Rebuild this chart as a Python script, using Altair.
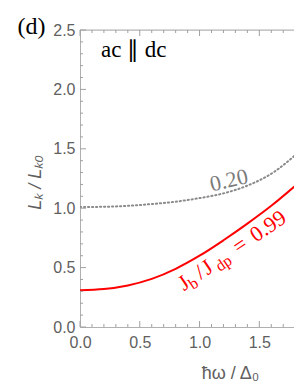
import altair as alt
import pandas as pd

# ---- data ----
omega = [0.0, 0.2, 0.4, 0.6, 0.8, 1.0, 1.2, 1.4, 1.6, 1.86]
lk_099 = [0.31, 0.32, 0.35, 0.405, 0.49, 0.60, 0.73, 0.87, 1.02, 1.24]
lk_020 = [1.01, 1.012, 1.02, 1.035, 1.055, 1.085, 1.125, 1.19, 1.29, 1.50]

x_major = [0.0, 0.5, 1.0, 1.5]
x_minor = [0.1, 0.2, 0.3, 0.4, 0.6, 0.7, 0.8, 0.9, 1.1, 1.2, 1.3, 1.4, 1.6, 1.7]
y_major = [0.0, 0.5, 1.0, 1.5, 2.0, 2.5]
y_minor = [0.1, 0.2, 0.3, 0.4, 0.6, 0.7, 0.8, 0.9, 1.1, 1.2, 1.3, 1.4,
           1.6, 1.7, 1.8, 1.9, 2.1, 2.2, 2.3, 2.4]

X_MAX = 1.79
Y_MAX = 2.5

# annotation anchors (data coordinates)
label_099_anchor = (1.37, 0.64)
label_020_anchor = (1.245, 1.235)
panel_label_anchor = (-0.405, 2.464)
config_label_anchor = (0.175, 2.27)

W, H = 214, 297
GRAY_TXT = "#606060"
AXIS_GRAY = "#b0b0b0"
TICK_GRAY = "#a0a0a0"
SERIF = "Liberation Serif"
SANS = "Liberation Sans"

xscale = alt.Scale(domain=[0, X_MAX], nice=False, zero=False)
yscale = alt.Scale(domain=[0, Y_MAX], nice=False, zero=False)

xaxis = alt.Axis(values=x_major, format=".1f", ticks=False, grid=False,
                 domainColor=AXIS_GRAY, domainWidth=1,
                 labelFont=SANS, labelFontSize=16, labelColor=GRAY_TXT, labelPadding=7,
                 labelFlush=False,
                 title="ħω / Δ₀", titleFont=SANS, titleFontSize=18, titleColor=GRAY_TXT,
                 titleFontWeight="normal", titleX=150, titleY=46,
                 titleAlign="center", titleBaseline="middle")
yaxis = alt.Axis(values=y_major, format=".1f", ticks=False, grid=False,
                 domainColor=AXIS_GRAY, domainWidth=1,
                 labelFont=SANS, labelFontSize=16, labelColor=GRAY_TXT, labelPadding=5,
                 labelFlush=False,
                 title="Lₖ / Lₖ₀", titleFont=SANS, titleFontSize=18, titleColor=GRAY_TXT,
                 titleFontWeight="normal", titleFontStyle="italic",
                 titleAngle=270, titleX=-45, titleY=152,
                 titleAlign="center", titleBaseline="middle")

df_red = pd.DataFrame({"w": omega, "L": lk_099})
df_gray = pd.DataFrame({"w": omega, "L": lk_020})

X = lambda: alt.X("w:Q", scale=xscale, axis=xaxis)
Y = lambda: alt.Y("L:Q", scale=yscale, axis=yaxis)

red_line = alt.Chart(df_red).mark_line(color="#ff0000", strokeWidth=2, interpolate="monotone",
                                       clip=True).encode(x=X(), y=Y())
gray_line = alt.Chart(df_gray).mark_line(color="#8a8a8a", strokeWidth=2, strokeDash=[1.2, 2.8],
                                        strokeCap="round", interpolate="monotone",
                                        clip=True).encode(x=X(), y=Y())

# frame top line
df_top = pd.DataFrame({"w": [0.0], "w2": [X_MAX], "L": [Y_MAX]})
top_line = alt.Chart(df_top).mark_rule(color=AXIS_GRAY, strokeWidth=1).encode(
    x=X(), x2="w2:Q", y=Y())

def xticks(vals, length):
    d = pd.DataFrame({"w": vals})
    bottom = alt.Chart(d).mark_rule(color=TICK_GRAY, strokeWidth=1).encode(
        x=X(), y=alt.value(H), y2=alt.value(H - length))
    top = alt.Chart(d).mark_rule(color=TICK_GRAY, strokeWidth=1).encode(
        x=X(), y=alt.value(0), y2=alt.value(length))
    return [bottom, top]

def yticks(vals, length):
    d = pd.DataFrame({"L": vals})
    return [alt.Chart(d).mark_rule(color=TICK_GRAY, strokeWidth=1).encode(
        y=Y(), x=alt.value(0), x2=alt.value(length))]

ticks = xticks(x_major, 6) + xticks(x_minor, 3) + yticks(y_major, 6) + yticks(y_minor, 3)

def text_at(anchor, text, **kw):
    d = pd.DataFrame({"w": [anchor[0]], "L": [anchor[1]]})
    return alt.Chart(d).mark_text(text=text, **kw).encode(x=X(), y=Y())

ANG = 326
S = 1.0
red_kw = dict(font=SERIF, color="#ff0000", angle=ANG, align="center", baseline="alphabetic")
red_labels = [
    text_at(label_099_anchor, "J", fontSize=22, dx=-67.8 * S, dy=0, **red_kw),
    text_at(label_099_anchor, "b", fontSize=16, dx=-60.0 * S, dy=4, **red_kw),
    text_at(label_099_anchor, "/", fontSize=22, dx=-48.5 * S, dy=0, **red_kw),
    text_at(label_099_anchor, "J", fontSize=22, dx=-39.5 * S, dy=0, **red_kw),
    text_at(label_099_anchor, "dp", fontSize=16, dx=-23.5 * S, dy=4, **red_kw),
    text_at(label_099_anchor, "=", fontSize=22, dx=0, dy=0, **red_kw),
    text_at(label_099_anchor, "0.99", fontSize=22, dx=34.0 * S, dy=0, **red_kw),
]
gray_label = text_at(label_020_anchor, "0.20", font=SERIF, fontSize=22, color="#7a7a7a",
                     angle=347, align="center", baseline="middle")
panel_label = text_at(panel_label_anchor, "(d)", font=SERIF, fontSize=24, color="#000000",
                      align="center", baseline="alphabetic")
config_label = text_at(config_label_anchor, "ac ∥ dc", font=SERIF, fontSize=23, color="#000000",
                       align="left", baseline="alphabetic")

chart = alt.layer(red_line, gray_line, top_line, *ticks, *red_labels, gray_label,
                  panel_label, config_label).properties(
    width=W, height=H,
    autosize=alt.AutoSizeParams(type="none"),
    padding={"left": 72, "top": 22, "right": 0, "bottom": 55},
).configure_view(stroke=None).configure(background="white")

chart.save("out.html", embed_options={"renderer": "svg", "actions": False})
